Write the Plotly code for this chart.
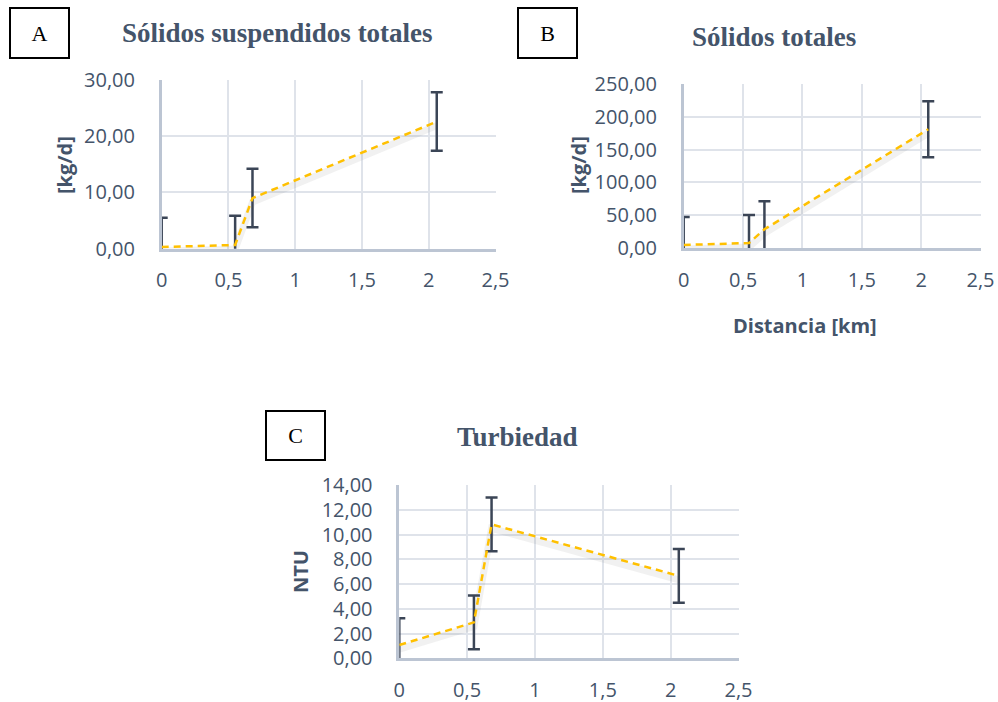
import plotly.graph_objects as go

# ---- data ----
dist = [0.0, 0.55, 0.68, 2.06]

sst_vals = [0.3, 0.66, 9.0, 22.6]
sst_err = [5.2, 5.2, 5.2, 5.2]

st_vals = [4.6, 7.6, 28.5, 181.0]
st_err = [42.7, 42.7, 42.7, 42.7]

turb_vals = [1.07, 2.9, 10.82, 6.66]
turb_err = [2.17, 2.17, 2.17, 2.17]

x_ticks = [0, 0.5, 1, 1.5, 2, 2.5]
x_ticklabels = ["0", "0,5", "1", "1,5", "2", "2,5"]

sst_yticks = [0, 10, 20, 30]
st_yticks = [0, 50, 100, 150, 200, 250]
turb_yticks = [0, 2, 4, 6, 8, 10, 12, 14]

titles = ["Sólidos suspendidos totales", "Sólidos totales", "Turbiedad"]
panel_labels = ["A", "B", "C"]
y_titles = ["[kg/d]", "[kg/d]", "NTU"]
x_title = "Distancia [km]"

W, H = 998, 702
TXT = "#44546a"
GRID = "#dfe3ea"
AXL = "#bcc5d3"
ERR = "#3b4556"
LINE = "#ffc000"
TICKFONT = dict(family="Open Sans", size=20, color=TXT)

fig = go.Figure()

panels = [
    dict(xd=[161.7, 495.5], yd=[248.7, 80], vals=sst_vals, err=sst_err,
         yticks=sst_yticks, yr=[0, 30], ax="", ),
    dict(xd=[683.7, 980.5], yd=[248, 84], vals=st_vals, err=st_err,
         yticks=st_yticks, yr=[0, 250], ax="2"),
    dict(xd=[399.3, 738.5], yd=[658.3, 485], vals=turb_vals, err=turb_err,
         yticks=turb_yticks, yr=[0, 14], ax="3"),
]

for i, p in enumerate(panels):
    xa = "x" + p["ax"]
    ya = "y" + p["ax"]
    # soft drop shadow below the dashed line (a few pixels lower)
    px_per_unit = (p["yd"][0] - p["yd"][1]) / (p["yr"][1] - p["yr"][0])
    shift = 4.0 / px_per_unit
    fig.add_trace(go.Scatter(
        x=dist, y=[v - shift for v in p["vals"]], xaxis=xa, yaxis=ya, mode="lines",
        line=dict(color="rgba(60,60,60,0.07)", width=7),
        showlegend=False, hoverinfo="skip"))
    fig.add_trace(go.Scatter(
        x=dist, y=p["vals"], xaxis=xa, yaxis=ya, mode="markers",
        marker=dict(size=1, color="rgba(0,0,0,0)"),
        error_y=dict(type="data", array=p["err"], visible=True,
                     color=ERR, thickness=2.5, width=6),
        showlegend=False, hoverinfo="skip"))
    fig.add_trace(go.Scatter(
        x=dist, y=p["vals"], xaxis=xa, yaxis=ya, mode="lines",
        line=dict(color=LINE, width=2.5, dash="7px,5px"),
        showlegend=False))
    xd = [p["xd"][0] / W, p["xd"][1] / W]
    yd = [1 - p["yd"][0] / H, 1 - p["yd"][1] / H]
    fig.layout["xaxis" + p["ax"]] = dict(
        domain=xd, anchor=ya, range=[0, 2.5], tickvals=x_ticks,
        ticktext=x_ticklabels, showgrid=True, gridcolor=GRID, gridwidth=2,
        showline=True, linecolor=AXL, linewidth=2.5, zeroline=False,
        ticks="outside", ticklen=12, tickcolor="rgba(0,0,0,0)",
        tickfont=TICKFONT, fixedrange=True, automargin=False)
    fig.layout["yaxis" + p["ax"]] = dict(
        domain=yd, anchor=xa, range=p["yr"], tickvals=p["yticks"],
        ticktext=[f"{v:.2f}".replace(".", ",") for v in p["yticks"]],
        showgrid=True, gridcolor=GRID, gridwidth=2,
        showline=True, linecolor=AXL, linewidth=2.5, zeroline=False,
        ticks="outside", ticklen=20, tickcolor="rgba(0,0,0,0)",
        tickfont=TICKFONT, fixedrange=True, automargin=False)

annotations = []
# titles
title_pos = [(277, 33), (774, 37), (517.5, 437)]
for t, (cx, cy) in zip(titles, title_pos):
    annotations.append(dict(text="<b>" + t + "</b>", x=cx / W, y=1 - cy / H,
                            xref="paper", yref="paper",
                            showarrow=False, xanchor="center", yanchor="middle",
                            font=dict(family="Liberation Serif", size=27, color=TXT)))
# panel boxes
box_pos = [(9, 7, 70, 59), (517, 7, 578, 59), (265, 410, 326, 461)]
for lab, (x0, y0, x1, y1) in zip(panel_labels, box_pos):
    annotations.append(dict(text=lab, x=(x0 + x1) / 2 / W, y=1 - (y0 + y1) / 2 / H,
                            xref="paper", yref="paper", showarrow=False,
                            xanchor="center", yanchor="middle",
                            width=x1 - x0 - 4, height=y1 - y0 - 4,
                            bordercolor="black", borderwidth=2, borderpad=0,
                            bgcolor="white",
                            font=dict(family="Liberation Serif", size=22, color="black")))
# y titles
ytitle_pos = [(64, 165), (578, 165), (300, 572)]
for t, (cx, cy) in zip(y_titles, ytitle_pos):
    annotations.append(dict(text="<b>" + t + "</b>", x=cx / W, y=1 - cy / H,
                            xref="paper", yref="paper", showarrow=False, textangle=-90,
                            xanchor="center", yanchor="middle",
                            font=dict(family="Open Sans", size=20, color=TXT)))
annotations.append(dict(text="<b>" + x_title + "</b>", x=805 / W, y=1 - 325 / H,
                        xref="paper", yref="paper", showarrow=False,
                        xanchor="center", yanchor="middle",
                        font=dict(family="Open Sans", size=20, color=TXT)))

fig.update_layout(width=W, height=H,
                  margin=dict(l=0, r=0, t=0, b=0, pad=0, autoexpand=False),
                  paper_bgcolor="white", plot_bgcolor="white",
                  annotations=annotations, showlegend=False)

fig.write_html("out.html", config={"displayModeBar": False})
